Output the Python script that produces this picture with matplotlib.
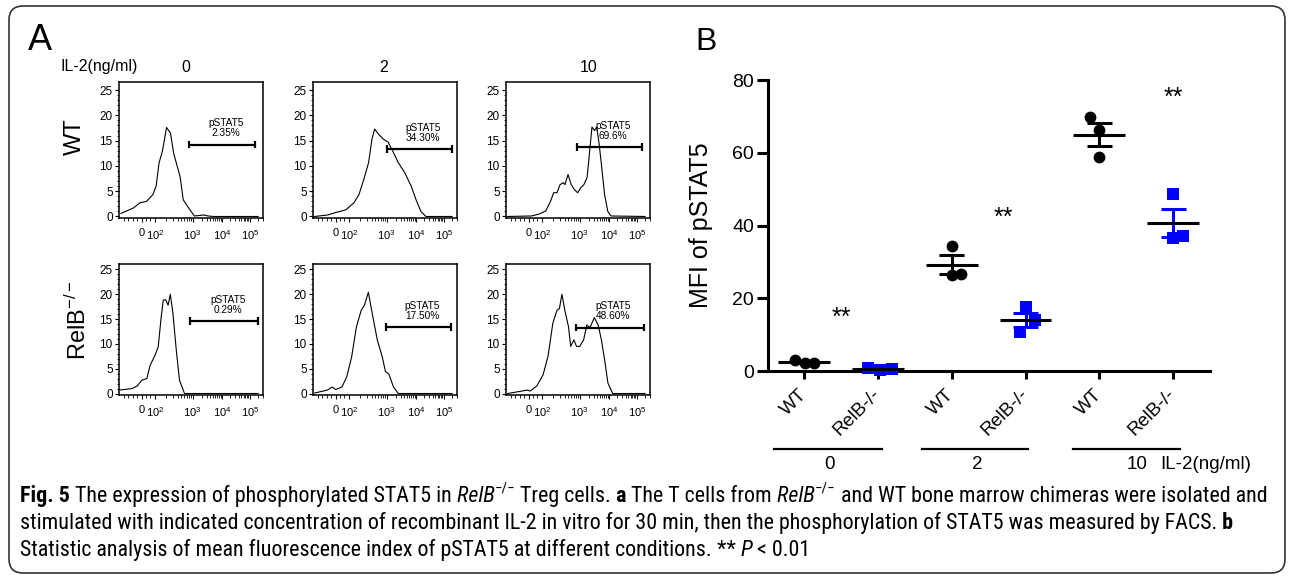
import matplotlib
matplotlib.use('Agg')
import matplotlib.pyplot as plt
import numpy as np
from matplotlib import font_manager
from matplotlib.patches import FancyBboxPatch
from matplotlib.transforms import IdentityTransform, blended_transform_factory

W, H, DPI = 1293, 580, 100

plt.rcParams['font.family'] = ['Liberation Sans', 'DejaVu Sans']
plt.rcParams['mathtext.fontset'] = 'custom'
plt.rcParams['mathtext.rm'] = 'Liberation Sans'
plt.rcParams['mathtext.it'] = 'Liberation Sans:italic'
plt.rcParams['mathtext.bf'] = 'Liberation Sans:bold'

# ---------------- panel A : flow histograms (x = % of axis width, y = count) ----
wt0_x = [1.4, 10.5, 15.0, 19.8, 24.3, 26.7, 28.8, 31.2, 34.2, 37.0, 39.3, 43.9, 46.2, 50.8, 54.2, 58.0, 61.0, 64.0, 68.0, 100]
wt0_y = [0.6, 1.7, 2.7, 3.0, 4.3, 6.0, 10.6, 12.9, 17.6, 16.5, 12.5, 7.9, 3.3, 1.4, 0.1, 0.2, 0.3, 0.1, 0, 0]
wt2_x = [1.2, 10.6, 16.5, 23.5, 29.4, 33.0, 36.5, 40.0, 42.4, 44.3, 47.0, 50.6, 54.0, 56.7, 61.2, 65.9, 70.6, 74.1, 77.6, 81.2, 100]
wt2_y = [0, 0.3, 0.8, 1.3, 2.7, 4.3, 7.3, 10.7, 15.3, 17.3, 16.3, 15.3, 14.7, 13.3, 10.7, 8.7, 6.0, 3.3, 1.0, 0, 0]
wt10_x = [1.1, 18.3, 24.0, 28.6, 32.0, 34.3, 36.6, 38.9, 41.2, 42.4, 44.6, 46.9, 49.2, 51.5, 53.8, 56.0, 58.3, 60.2, 61.8, 63.6, 65.2, 67.0, 68.6, 70.9, 73.2, 75.5, 100]
wt10_y = [0, 0.1, 0.5, 1.1, 3.0, 4.7, 4.7, 6.3, 6.7, 6.3, 8.3, 6.3, 5.3, 4.7, 5.7, 6.3, 7.7, 13.0, 17.7, 17.0, 17.7, 14.3, 10.3, 4.3, 1.0, 0.1, 0]
relb0_x = [0.5, 9.4, 13.0, 16.5, 20.0, 22.4, 25.9, 28.2, 30.1, 31.8, 33.6, 35.3, 36.9, 38.8, 41.2, 43.5, 47.1, 100]
relb0_y = [0.7, 1.0, 1.5, 2.7, 3.0, 5.7, 7.7, 9.4, 14.8, 18.8, 18.9, 17.8, 20.0, 16.1, 8.7, 2.7, 0, 0]
relb2_x = [1.2, 10.4, 13.9, 16.2, 20.8, 24.3, 27.8, 31.2, 34.7, 37.0, 39.8, 42.8, 46.3, 49.8, 52.1, 54.4, 57.9, 61.4, 100]
relb2_y = [0.1, 0.7, 1.3, 0.8, 1.3, 3.4, 7.4, 13.4, 16.8, 17.8, 20.4, 15.8, 10.7, 7.4, 4.4, 4.0, 1.3, 0, 0]
relb10_x = [1.2, 11.6, 15.1, 17.4, 22.1, 26.7, 30.2, 33.7, 36.7, 38.4, 40.2, 42.3, 44.9, 46.5, 48.8, 50.7, 53.0, 55.8, 58.1, 60.4, 63.5, 66.3, 68.6, 70.9, 73.3, 76.7, 100]
relb10_y = [0, 0.5, 0.7, 0.5, 1.5, 3.8, 7.5, 14.2, 16.8, 17.1, 20.0, 16.8, 13.5, 9.5, 10.8, 9.5, 9.5, 10.8, 13.8, 13.3, 15.3, 13.8, 10.8, 6.8, 2.1, 0, 0]

hist_x = [[wt0_x, wt2_x, wt10_x], [relb0_x, relb2_x, relb10_x]]
hist_y = [[wt0_y, wt2_y, wt10_y], [relb0_y, relb2_y, relb10_y]]

il2_doses = ['0', '2', '10']
genotypes = ['WT', 'RelB$^{-/-}$']
gate_pct = [['2.35%', '34.30%', '69.6%'], ['0.29%', '17.50%', '48.60%']]
gate_lo = [[50.3, 53.0, 50.8], [51.3, 52.8, 50.5]]
gate_hi = [[98.0, 100.0, 97.7], [100.0, 99.5, 99.0]]
gate_lvl = [[14.2, 13.3, 13.7], [14.6, 13.4, 13.3]]

flow_tick_pos = [16.5, 26, 53, 74, 94]
flow_tick_lab = ['0', '$10^2$', '$10^3$', '$10^4$', '$10^5$']

# ---------------- panel B : MFI of pSTAT5 ----------------
wt_mfi = [[3.0, 2.2, 2.2], [34.4, 26.5, 26.8], [69.8, 66.3, 58.8]]
relb_mfi = [[0.7, 0.4, 0.5], [17.5, 14.0, 10.8], [48.6, 36.5, 37.0]]
cat_labels = ['WT', 'RelB-/-', 'WT', 'RelB-/-', 'WT', 'RelB-/-']
star_x = [1.5, 3.7, 6.0]
star_y = [14.5, 42.0, 75.0]

fig = plt.figure(figsize=(W / DPI, H / DPI), dpi=DPI)

# outer rounded frame
fig.patches.append(FancyBboxPatch((9, 7), 1276, 567, boxstyle='round,pad=0,rounding_size=14',
                                  transform=IdentityTransform(), fill=False, ec='#333333', lw=1.2))

# ---- panel A
col_left = [119, 313, 506]
rows = [(82, 218, 26.6), (264, 395, 26.1)]
axw = 144
minor_x = [3.5, 6.8, 10.0, 13.2, 19.5, 22.5]
for a, b in [(26, 53), (53, 74), (74, 94)]:
    minor_x += [a + np.log10(k) * (b - a) for k in range(2, 10)]
minor_x += [94 + np.log10(k) * 20 for k in range(2, 4)]

for r, (top, bot, ytop) in enumerate(rows):
    for c in range(3):
        ax = fig.add_axes([col_left[c] / W, 1 - bot / H, axw / W, (bot - top) / H])
        ax.plot(hist_x[r][c], hist_y[r][c], color='black', lw=0.8)
        lo, hi, lv = gate_lo[r][c], gate_hi[r][c], gate_lvl[r][c]
        ax.hlines(lv, lo, hi, color='black', lw=1.6)
        ax.vlines([lo, hi], lv - 0.75, lv + 0.75, color='black', lw=1.6)
        ax.text((lo + hi) / 2 + 2.5, lv + 1.3, 'pSTAT5\n' + gate_pct[r][c], ha='center', va='bottom',
                fontsize=7.3, linespacing=1.0)
        ax.set_xlim(0, 100)
        ax.set_ylim(-0.3, ytop)
        ax.set_yticks([0, 5, 10, 15, 20, 25])
        ax.set_yticks(np.arange(0, 26, 1), minor=True)
        ax.set_xticks(flow_tick_pos)
        ax.set_xticklabels(flow_tick_lab)
        ax.set_xticks(minor_x, minor=True)
        ax.tick_params(which='major', length=3, width=0.8, labelsize=8.5, pad=1.5)
        ax.tick_params(which='minor', length=1.8, width=0.6)
        ax.tick_params(axis='x', which='major', labelsize=8, pad=4)
        for s in ax.spines.values():
            s.set_linewidth(1.1)

for c in range(3):
    fig.text([186, 384, 589][c] / W, 1 - 67 / H, il2_doses[c], ha='center', va='center', fontsize=11.5)
fig.text(61 / W, 1 - 67 / H, 'IL-2(ng/ml)', ha='left', va='center', fontsize=11.5)
fig.text(75 / W, 1 - 137 / H, genotypes[0], rotation=90, ha='center', va='center', fontsize=17)
fig.text(78 / W, 1 - 320 / H, genotypes[1], rotation=90, ha='center', va='center', fontsize=17)
fig.text(28 / W, 1 - 40 / H, 'A', ha='left', va='center', fontsize=26)

# ---- panel B
axb = fig.add_axes([768 / W, 1 - 371 / H, 442 / W, 291 / H])
jit = [[[-0.12, 0.01, 0.14], [-0.14, 0.03, 0.19]],
       [[0.0, 0.0, 0.13], [0.0, 0.13, -0.07]],
       [[-0.12, 0.0, 0.0], [0.0, 0.0, 0.13]]]
for g in range(3):
    for k, (vals, col, mk) in enumerate([(wt_mfi[g], 'black', 'o'), (relb_mfi[g], '#0000ff', 's')]):
        xc = 1 + 2 * g + k
        v = np.array(vals)
        m = v.mean()
        se = v.std(ddof=1) / np.sqrt(len(v))
        axb.plot(xc + np.array(jit[g][k]), v, mk, color=col, ms=8.5, mew=0, clip_on=False, zorder=3)
        axb.vlines(xc, m - se, m + se, color=col, lw=2.2, zorder=4)
        axb.hlines([m - se, m + se], xc - 0.17, xc + 0.17, color=col, lw=2.2, zorder=4)
        axb.hlines(m, xc - 0.35, xc + 0.35, color='black', lw=2.2, zorder=5, clip_on=False)
for sx, sy in zip(star_x, star_y):
    axb.text(sx, sy, '**', ha='center', va='center', fontsize=18)

axb.set_xlim(0.51, 6.5)
axb.set_ylim(0, 80)
axb.set_yticks([0, 20, 40, 60, 80])
axb.set_xticks(range(1, 7))
axb.set_xticklabels(cat_labels, rotation=45, ha='right', rotation_mode='anchor', va='center')
axb.tick_params(axis='y', length=8, width=2.2, labelsize=14, pad=2)
axb.tick_params(axis='x', length=6, width=2.2, labelsize=13.5, pad=9)
for s in ['top', 'right']:
    axb.spines[s].set_visible(False)
for s in ['left', 'bottom']:
    axb.spines[s].set_linewidth(2.2)
axb.set_ylabel('MFI of pSTAT5', fontsize=18)
axb.yaxis.set_label_coords(-0.124, 0.5)

tr = blended_transform_factory(axb.transData, axb.transAxes)
grp_lines = [(0.59, 2.06), (2.6, 4.04), (4.64, 6.09)]
grp_lab_x = [1.34, 3.34, 5.51]
for (x0, x1), lx, d in zip(grp_lines, grp_lab_x, il2_doses):
    axb.plot([x0, x1], [-0.268, -0.268], color='black', lw=1.6, transform=tr, clip_on=False)
    axb.text(lx, -0.323, d, transform=tr, ha='center', va='center', fontsize=13.5)
axb.text(5.82, -0.323, 'IL-2(ng/ml)', transform=tr, ha='left', va='center', fontsize=13.5)
fig.text(695 / W, 1 - 42 / H, 'B', ha='left', va='center', fontsize=23)

# ---- caption
names = {f.name for f in font_manager.fontManager.ttflist}
cap_font = next((n for n in ['Liberation Sans Narrow', 'DejaVu Sans Condensed', 'Roboto Condensed',
                             'Open Sans', 'Noto Sans'] if n in names), 'DejaVu Sans')

cap_lines = [
    [('Fig. 5', 'b'), (' The expression of phosphorylated STAT5 in', ''), (' RelB', 'i'), ('\u2212/\u2212', 's'),
     (' Treg cells.', ''), (' a', 'b'), (' The T cells from', ''), (' RelB', 'i'), ('\u2212/\u2212', 's'),
     (' and WT bone marrow chimeras were isolated and', '')],
    [('stimulated with indicated concentration of recombinant IL-2 in vitro for 30 min, then the '
      'phosphorylation of STAT5 was measured by FACS.', ''), (' b', 'b')],
    [('Statistic analysis of mean fluorescence index of pSTAT5 at different conditions.', ''), (' **', ''),
     (' P', 'i'), (' < 0.01', '')],
]
cap_base = [502, 529, 556]
renderer = fig.canvas.get_renderer()


def rich_line(x_px, y_px, runs, size):
    out = []
    x = x_px
    for txt, st in runs:
        kw = dict(fontsize=size, family=[cap_font, 'DejaVu Sans'], ha='left', va='baseline')
        yy = y_px
        if 'b' in st:
            kw['fontweight'] = 'bold'
        if 'i' in st:
            kw['fontstyle'] = 'italic'
        if 's' in st:
            kw['fontsize'] = size * 0.68
            yy = y_px - size * 0.42 * DPI / 72
        t = fig.text(x / W, 1 - yy / H, txt, **kw)
        x += t.get_window_extent(renderer).width
        out.append(t)
    return out, x


tmp, xe = rich_line(20, cap_base[0], cap_lines[0], 10)
for t in tmp:
    t.remove()
cap_size = 10 * 1247 / (xe - 20)
for runs, yb in zip(cap_lines, cap_base):
    rich_line(20, yb, runs, cap_size)

fig.savefig('out.png', dpi=DPI)
